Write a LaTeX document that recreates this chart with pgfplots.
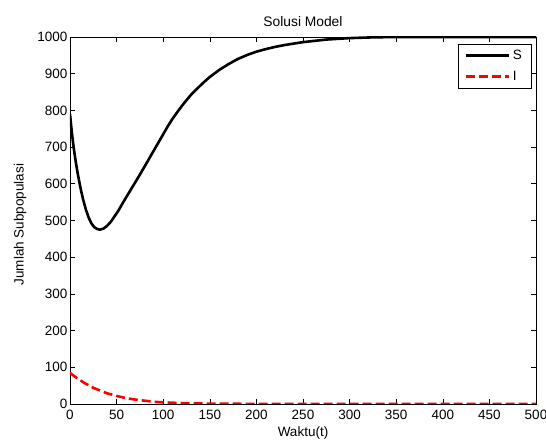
\documentclass[border=0pt]{standalone}
\usepackage{fontspec}
\setmainfont{Liberation Sans}
\usepackage{pgfplots}
\pgfplotsset{compat=1.18}
\begin{document}
\begin{tikzpicture}
\useasboundingbox (-70pt,-37pt) rectangle (476pt,404pt);
\begin{axis}[
  at={(0,0)}, anchor=south west,
  scale only axis, width=466pt, height=367pt,
  xmin=0, xmax=500, ymin=0, ymax=1000,
  xtick={0,50,...,500}, ytick={0,100,...,1000},
  tick align=inside, major tick length=5pt,
  axis line style={line width=0.9pt},
  every tick/.style={black, line width=0.6pt},
  /pgf/number format/assume math mode=true,
  /pgf/number format/1000 sep={},
  font=\fontsize{13.5}{16}\selectfont,
  ticklabel style={font=\fontsize{13.5}{16}\selectfont},
  xticklabel style={yshift=-3pt},
  yticklabel style={xshift=1pt},
  title={Solusi Model},
  every axis title/.style={at={(axis description cs:0.5,1)}, anchor=center, yshift=15pt, font=\fontsize{13.8}{16}\selectfont},
  xlabel={Waktu(t)},
  every axis x label/.style={at={(axis description cs:0.5,0)}, anchor=center, yshift=-29pt},
  ylabel={Jumlah Subpopulasi},
  every axis y label/.style={at={(axis description cs:-0.107,0.489)}, anchor=center, rotate=90},
  legend style={name=leg, at={(1,1)}, anchor=north east, xshift=-5pt, yshift=-7pt,
    draw=none, inner xsep=7pt, inner ysep=4pt, row sep=6pt,
    font=\fontsize{13.5}{16}\selectfont,
    nodes={inner sep=2pt}},
  legend image code/.code={\draw[#1] (0pt,0pt) -- (43pt,0pt);},
  legend cell align=left,
]
\addplot[black, line width=2.6pt, line join=round] coordinates {
(0,790) (1,764) (2,740) (3,718) (4,698) (5,680) (6,663) (8,632) (10,605)
(12,580) (14,558) (17,530) (20,508) (23,492) (26,482) (29,477) (32,475)
(36,478) (40,486) (44,497) (48,512) (52,527) (56,545) (60,562) (65,583)
(70,604) (75,625) (80,647) (85,669) (90,691) (95,713) (100,735) (105,757)
(110,777) (115,795) (120,812) (125,828) (130,843) (135,856) (140,868)
(145,880) (150,891) (160,910) (170,926) (180,940) (190,951) (200,960)
(210,967) (220,973) (230,978) (240,982) (250,986) (275,993) (300,997)
(325,999) (350,1000) (400,1000) (450,1000) (500,1000)
};
\addlegendentry{S}
\addplot[red, line width=2.6pt, dash pattern=on 9pt off 4pt] coordinates {
(0,85) (5,75) (10,66) (15,58) (20,51) (25,44) (30,39) (35,34) (40,29)
(50,22) (60,16) (70,12) (80,9) (90,6) (100,4.5) (120,2.5) (150,1)
(200,0.3) (250,0.1) (300,0) (400,0) (500,0)
};
\addlegendentry{I}
\end{axis}
\draw[black, line width=0.9pt] (leg.south west) rectangle (leg.north east);
\end{tikzpicture}
\end{document}
